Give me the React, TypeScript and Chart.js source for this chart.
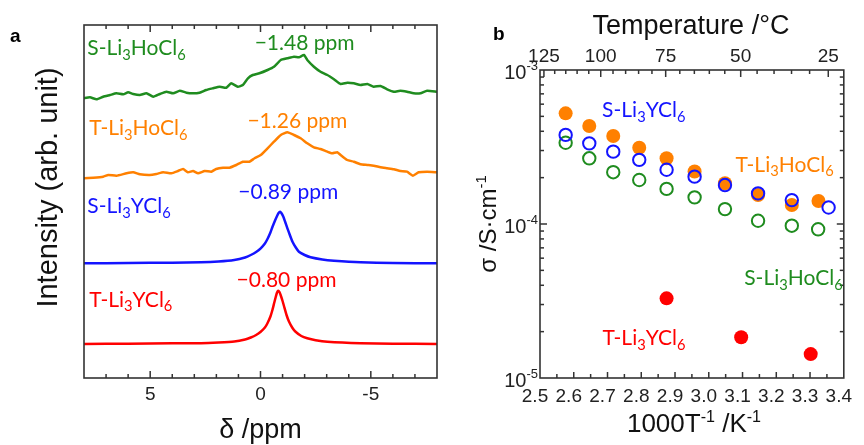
import React, { useEffect, useRef } from 'react';
import { Chart, registerables } from 'chart.js';
Chart.register(...registerables);

// ---------------- Panel a : 7Li NMR spectra (delta in ppm, intensity in arb. units) ----------------
const sHoPpm = [8.03, 7.73, 7.43, 7.13, 6.82, 6.53, 6.22, 6.0, 5.77, 5.47, 5.17, 4.86, 4.56, 4.27, 3.96, 3.66, 3.36, 3.06, 2.76, 2.46, 2.16, 1.85, 1.55, 1.33, 1.03, 0.8, 0.57, 0.35, 0.05, -0.32, -0.61, -0.92, -1.22, -1.52, -1.74, -1.97, -2.12, -2.42, -2.72, -3.03, -3.33, -3.63, -3.93, -4.23, -4.53, -4.84, -5.13, -5.44, -5.74, -6.04, -6.34, -6.64, -6.94, -7.25, -7.55, -8.0];
const sHoInt = [279.7, 280.7, 278.7, 281.3, 283, 284.7, 283.7, 285.7, 284, 283, 284.7, 281.3, 284, 286.3, 284.7, 287.3, 285.3, 284.7, 285.3, 288, 289.7, 291.3, 290.3, 294.7, 291.3, 293, 299.7, 303, 304.7, 308, 311.3, 318, 319.7, 321.3, 320.7, 323, 318, 311.3, 306.3, 303, 298.7, 294, 295.3, 294.7, 293, 294, 291.3, 292, 288.7, 286.3, 287.3, 286.3, 284.7, 284.7, 287.3, 286.3];

const tHoPpm = [8.03, 7.58, 7.13, 6.9, 6.53, 6.07, 5.77, 5.47, 5.02, 4.72, 4.41, 4.04, 3.74, 3.51, 3.29, 3.06, 2.83, 2.53, 2.23, 2.01, 1.7, 1.4, 1.1, 0.8, 0.5, 0.27, -0.01, -0.32, -0.61, -0.92, -1.22, -1.52, -1.82, -2.12, -2.42, -2.72, -3.03, -3.25, -3.48, -3.63, -3.93, -4.23, -4.53, -4.84, -5.13, -5.44, -5.74, -6.04, -6.34, -6.64, -6.91, -7.17, -7.55, -8.0];
const tHoInt = [199.7, 200.3, 201.3, 203, 202.3, 204.7, 205.7, 203.7, 203, 204, 205.7, 204.7, 207, 209, 205.7, 207, 204.7, 207, 206.3, 209, 210.3, 210.3, 213, 216.3, 216.3, 219.7, 223, 229.7, 236.3, 243, 245.7, 243, 239.7, 234.7, 230.7, 229, 226.3, 224.7, 225.7, 223, 218, 216.3, 213.7, 213, 212.3, 210.7, 209.7, 208.7, 207, 206.3, 202.3, 205.7, 206.3, 205.7];

const sYPpm = [8, 6, 4, 2.7, 1.9, 1.19, 0.7, 0.44, 0.2, -0.01, -0.2, -0.31, -0.45, -0.54, -0.65, -0.74, -0.82, -0.89, -0.96, -1.04, -1.12, -1.22, -1.33, -1.45, -1.6, -1.74, -2.0, -2.27, -2.8, -3.33, -4.53, -6, -8];
const sYInt = [114.7, 115, 115.3, 115.7, 116.5, 118, 120.5, 123, 126, 129.7, 134.5, 138.7, 145.5, 151, 157, 161.5, 165, 166.3, 164.5, 161, 156, 149.7, 143, 136.3, 130.5, 126.3, 123, 120.7, 118.5, 117.3, 115.7, 115, 114.7];

const tYPpm = [8, 6, 4, 2.7, 1.9, 1.19, 0.7, 0.44, 0.2, -0.01, -0.2, -0.31, -0.45, -0.54, -0.62, -0.69, -0.75, -0.8, -0.86, -0.92, -1.0, -1.07, -1.18, -1.29, -1.45, -1.59, -1.85, -2.12, -2.5, -3.03, -4.53, -6, -8];
const tYInt = [34, 34.3, 34.7, 34.8, 35.5, 36.5, 38.5, 40.5, 43, 46.3, 50.5, 54.5, 61.5, 68, 75, 81, 85.5, 87.3, 86, 82.5, 77, 71.5, 63, 56.5, 50, 46.3, 42, 39.7, 37.8, 36.3, 34.8, 34.3, 34];

const ppmTickLabels = [5, 0, -5];

// ---------------- Panel b : conductivity vs 1000/T ----------------
const sYInvT = [2.576, 2.646, 2.717, 2.794, 2.875, 2.958, 3.048, 3.146, 3.246, 3.355];
const sYSigma = [3.79e-4, 3.34e-4, 2.95e-4, 2.61e-4, 2.25e-4, 2.03e-4, 1.79e-4, 1.58e-4, 1.43e-4, 1.28e-4];
const tHoInvT = [2.576, 2.646, 2.717, 2.794, 2.875, 2.958, 3.048, 3.146, 3.246, 3.325];
const tHoSigma = [5.23e-4, 4.33e-4, 3.73e-4, 3.13e-4, 2.67e-4, 2.19e-4, 1.84e-4, 1.54e-4, 1.33e-4, 1.41e-4];
const sHoInvT = [2.576, 2.646, 2.717, 2.794, 2.875, 2.958, 3.048, 3.146, 3.246, 3.324];
const sHoSigma = [3.37e-4, 2.67e-4, 2.17e-4, 1.93e-4, 1.69e-4, 1.49e-4, 1.25e-4, 1.05e-4, 9.75e-5, 9.24e-5];
const tYInvT = [2.875, 3.096, 3.302];
const tYSigma = [3.29e-5, 1.84e-5, 1.43e-5];

const invTTickLabels = [2.5, 2.6, 2.7, 2.8, 2.9, 3.0, 3.1, 3.2, 3.3, 3.4];
const tempTickLabels = [125, 100, 75, 50, 25];
const sigmaDecades = [-5, -4, -3];

// ---------------- styles ----------------
const GREEN = '#1f8c1f';
const ORANGE = '#ff8000';
const BLUE = '#1414ff';
const RED = '#ff0000';
const FRAME = '#333333';
const AXIS_FONT = '"Liberation Sans", Arial, sans-serif';
const LABEL_FONT = 'Lato, "Open Sans", sans-serif';

type Seg = { t: string; s?: 'sub' | 'sup' };
const chem = (a: string, n1: string, b: string, n2: string): Seg[] => [
  { t: a }, { t: n1, s: 'sub' }, { t: b }, { t: n2, s: 'sub' },
];

function drawRich(
  ctx: CanvasRenderingContext2D, segs: Seg[], x: number, y: number, size: number,
  family: string, color: string, align: 'left' | 'center' | 'right',
  opts: { weight?: string; rotate?: boolean; small?: number; subShift?: number; supShift?: number } = {}
) {
  const weight = opts.weight || 'normal';
  const small = size * (opts.small || 0.7);
  const fontOf = (s: Seg) => `${weight} ${s.s ? small : size}px ${family}`;
  ctx.save();
  ctx.fillStyle = color;
  ctx.textBaseline = 'alphabetic';
  ctx.textAlign = 'left';
  let total = 0;
  for (const s of segs) { ctx.font = fontOf(s); total += ctx.measureText(s.t).width; }
  ctx.translate(x, y);
  if (opts.rotate) ctx.rotate(-Math.PI / 2);
  let cx = align === 'left' ? 0 : align === 'center' ? -total / 2 : -total;
  for (const s of segs) {
    ctx.font = fontOf(s);
    const dy = s.s === 'sub' ? size * (opts.subShift ?? 0.22) : s.s === 'sup' ? -size * (opts.supShift ?? 0.4) : 0;
    ctx.fillText(s.t, cx, dy);
    cx += ctx.measureText(s.t).width;
  }
  ctx.restore();
}

const annotationsA = [
  { segs: chem('S-Li', '3', 'HoCl', '6'), x: 7.85, y: 323, color: GREEN, align: 'left' },
  { segs: [{ t: '\u22121.48 ppm' }], x: -2.0, y: 328, color: GREEN, align: 'center' },
  { segs: chem('T-Li', '3', 'HoCl', '6'), x: 7.76, y: 243, color: ORANGE, align: 'left' },
  { segs: [{ t: '\u22121.26 ppm' }], x: -1.67, y: 250.3, color: ORANGE, align: 'center' },
  { segs: chem('S-Li', '3', 'YCl', '6'), x: 7.85, y: 165, color: BLUE, align: 'left' },
  { segs: [{ t: '\u22120.89 ppm' }], x: -1.26, y: 178.7, color: BLUE, align: 'center' },
  { segs: chem('T-Li', '3', 'YCl', '6'), x: 7.76, y: 71.3, color: RED, align: 'left' },
  { segs: [{ t: '\u22120.80 ppm' }], x: -1.18, y: 90.7, color: RED, align: 'center' },
];

const annotationsB = [
  { segs: chem('S-Li', '3', 'YCl', '6'), x: 2.684, y: 4.96e-4, color: BLUE },
  { segs: chem('T-Li', '3', 'HoCl', '6'), x: 3.079, y: 2.18e-4, color: ORANGE },
  { segs: chem('S-Li', '3', 'HoCl', '6'), x: 3.105, y: 4.02e-5, color: GREEN },
  { segs: chem('T-Li', '3', 'YCl', '6'), x: 2.685, y: 1.64e-5, color: RED },
];

const zip = (xs: number[], ys: number[]) => xs.map((x, i) => ({ x, y: ys[i] }));

function line(xs: number[], ys: number[], color: string) {
  return {
    data: zip(xs, ys), showLine: true, borderColor: color, borderWidth: 2.5,
    pointRadius: 0, tension: 0.15, fill: false,
  };
}

function vTick(ctx: CanvasRenderingContext2D, x: number, y0: number, len: number) {
  ctx.beginPath(); ctx.moveTo(x, y0); ctx.lineTo(x, y0 + len); ctx.stroke();
}
function hTick(ctx: CanvasRenderingContext2D, y: number, x0: number, len: number) {
  ctx.beginPath(); ctx.moveTo(x0, y); ctx.lineTo(x0 + len, y); ctx.stroke();
}

const panelAPlugin = {
  id: 'panelADecor',
  afterDraw(chart: any) {
    const { ctx, chartArea: ca, scales } = chart;
    const xs = scales.x, ys = scales.y;
    ctx.save();
    ctx.strokeStyle = FRAME;
    ctx.lineWidth = 1.5;
    for (let v = -7; v <= 7; v += 1) {
      const px = xs.getPixelForValue(v);
      const len = v % 5 === 0 ? 7 : 4;
      vTick(ctx, px, ca.bottom, -len);
      vTick(ctx, px, ca.top, len);
    }
    ctx.lineWidth = 1.6;
    ctx.strokeRect(ca.left, ca.top, ca.right - ca.left, ca.bottom - ca.top);
    ctx.restore();

    for (const a of annotationsA) {
      drawRich(ctx, a.segs as Seg[], xs.getPixelForValue(a.x), ys.getPixelForValue(a.y), 21, LABEL_FONT, a.color, a.align as any);
    }
    // panel letter
    drawRich(ctx, [{ t: 'a' }], 10, 42, 19, AXIS_FONT, '#000', 'left', { weight: 'bold' });
    // axis titles
    drawRich(ctx, [{ t: 'Intensity (arb. unit)' }], 57, (ca.top + ca.bottom) / 2 - 14, 29, AXIS_FONT, '#111', 'center', { rotate: true });
    drawRich(ctx, [{ t: '\u03b4 /ppm' }], (ca.left + ca.right) / 2, 438, 27, AXIS_FONT, '#111', 'center');
  },
};

const panelBPlugin = {
  id: 'panelBDecor',
  afterDraw(chart: any) {
    const { ctx, chartArea: ca, scales } = chart;
    const xs = scales.x, ys = scales.y;
    ctx.save();
    ctx.strokeStyle = FRAME;
    ctx.lineWidth = 1.5;
    // bottom ticks every 0.05
    for (let i = 1; i < 18; i++) {
      const v = 2.5 + i * 0.05;
      const px = xs.getPixelForValue(v);
      vTick(ctx, px, ca.bottom, i % 2 === 0 ? -6 : -4);
    }
    // top ticks: every 5 degC
    for (let T = 25; T <= 125; T += 5) {
      const px = xs.getPixelForValue(1000 / (T + 273.15));
      vTick(ctx, px, ca.top, T % 25 === 0 ? 7 : 4);
    }
    // log ticks on left and right
    for (const e of [-5, -4]) {
      for (let m = 1; m <= 9; m++) {
        const py = ys.getPixelForValue(m * Math.pow(10, e));
        const len = m === 1 ? 7 : 4;
        if (py >= ca.bottom - 0.5) continue;
        hTick(ctx, py, ca.left, len);
        hTick(ctx, py, ca.right, -len);
      }
    }
    ctx.lineWidth = 1.6;
    ctx.strokeRect(ca.left, ca.top, ca.right - ca.left, ca.bottom - ca.top);
    ctx.restore();

    // y tick labels 10^e
    for (const e of sigmaDecades) {
      const py = ys.getPixelForValue(Math.pow(10, e));
      drawRich(ctx, [{ t: '10' }, { t: String(e), s: 'sup' }], ca.left - 2, py + 9, 20, AXIS_FONT, '#222', 'right', { small: 0.65, supShift: 0.45 });
    }

    for (const a of annotationsB) {
      drawRich(ctx, a.segs, xs.getPixelForValue(a.x), ys.getPixelForValue(a.y), 21, LABEL_FONT, a.color, 'left');
    }
    drawRich(ctx, [{ t: 'b' }], 33, 40, 19, AXIS_FONT, '#000', 'left', { weight: 'bold' });
    drawRich(ctx, [{ t: 'Temperature /\u00b0C' }], 231, 34, 27, AXIS_FONT, '#111', 'center');
    drawRich(ctx, [{ t: '1000T' }, { t: '-1', s: 'sup' }, { t: ' /K' }, { t: '-1', s: 'sup' }], 234, 432, 26, AXIS_FONT, '#111', 'center', { small: 0.62 });
    drawRich(ctx, [{ t: '\u03c3 /S\u00b7cm' }, { t: '-1', s: 'sup' }], 36, (ca.top + ca.bottom) / 2, 24, AXIS_FONT, '#111', 'center', { rotate: true, small: 0.62 });
  },
};

export default function App() {
  const refA = useRef<HTMLCanvasElement>(null);
  const refB = useRef<HTMLCanvasElement>(null);

  useEffect(() => {
    const hidden = { display: false, drawTicks: false };
    const chartA = new Chart(refA.current as HTMLCanvasElement, {
      type: 'scatter',
      data: {
        datasets: [
          line(sHoPpm, sHoInt, GREEN),
          line(tHoPpm, tHoInt, ORANGE),
          line(sYPpm, sYInt, BLUE),
          line(tYPpm, tYInt, RED),
        ] as any,
      },
      options: {
        animation: false, responsive: false, maintainAspectRatio: false, devicePixelRatio: 1,
        layout: { padding: { top: 25, right: 23, left: 0, bottom: 0 } },
        plugins: { legend: { display: false }, tooltip: { enabled: false } },
        scales: {
          x: {
            type: 'linear', min: -8, max: 8, reverse: true, position: 'bottom',
            grid: hidden, border: { display: false },
            ticks: { font: { family: AXIS_FONT, size: 19 }, color: '#222', padding: 5.5, autoSkip: false, maxRotation: 0, callback: (v: any) => String(v) },
            afterBuildTicks: (s: any) => { s.ticks = ppmTickLabels.map((v) => ({ value: v })); },
            afterFit: (s: any) => { s.height = 67; },
          },
          y: {
            type: 'linear', min: 0, max: 353,
            grid: hidden, border: { display: false },
            ticks: { display: false },
            afterFit: (s: any) => { s.width = 84; },
          },
        },
      } as any,
      plugins: [panelAPlugin as any],
    });

    const point = (xs: number[], ys: number[], color: string, filled: boolean) => ({
      data: zip(xs, ys), showLine: false, pointStyle: 'circle',
      pointRadius: filled ? 7 : 6.2,
      pointBackgroundColor: filled ? color : 'rgba(0,0,0,0)',
      pointBorderColor: color, pointBorderWidth: filled ? 0 : 2,
    });

    const chartB = new Chart(refB.current as HTMLCanvasElement, {
      type: 'scatter',
      data: {
        datasets: [
          point(sYInvT, sYSigma, BLUE, false),
          point(tHoInvT, tHoSigma, ORANGE, true),
          point(sHoInvT, sHoSigma, GREEN, false),
          point(tYInvT, tYSigma, RED, true),
        ] as any,
      },
      options: {
        animation: false, responsive: false, maintainAspectRatio: false, devicePixelRatio: 1,
        layout: { padding: { top: 0, right: 16, left: 0, bottom: 0 } },
        plugins: { legend: { display: false }, tooltip: { enabled: false } },
        scales: {
          x: {
            type: 'linear', min: 2.5, max: 3.4, position: 'bottom',
            grid: hidden, border: { display: false },
            ticks: { font: { family: AXIS_FONT, size: 19 }, color: '#222', padding: 7, labelOffset: -5, autoSkip: false, maxRotation: 0, callback: (v: any) => Number(v).toFixed(1) },
            afterBuildTicks: (s: any) => { s.ticks = invTTickLabels.map((v) => ({ value: v })); },
            afterFit: (s: any) => { s.height = 67; },
          },
          x2: {
            type: 'linear', min: 2.5, max: 3.4, position: 'top',
            grid: hidden, border: { display: false },
            ticks: { font: { family: AXIS_FONT, size: 19 }, color: '#222', padding: 2, autoSkip: false, maxRotation: 0, callback: (_v: any, i: number) => String(tempTickLabels[i]) },
            afterBuildTicks: (s: any) => { s.ticks = tempTickLabels.map((T) => ({ value: 1000 / (T + 273.15) })); },
            afterFit: (s: any) => { s.height = 70; },
          },
          y: {
            type: 'logarithmic', min: 1e-5, max: 1e-3,
            grid: hidden, border: { display: false },
            ticks: { display: false },
            afterFit: (s: any) => { s.width = 80; },
          },
        },
      } as any,
      plugins: [panelBPlugin as any],
    });

    let alive = true;
    const fonts: any = (document as any).fonts;
    if (fonts && fonts.load) {
      Promise.all([fonts.load('21px Lato'), fonts.load('18px "Liberation Sans"')])
        .then(() => { if (alive) { chartA.update(); chartB.update(); } })
        .catch(() => {});
    }
    return () => { alive = false; chartA.destroy(); chartB.destroy(); };
  }, []);

  return (
    <div style={{ position: 'fixed', left: 0, top: 0, width: 864, height: 445, background: '#fff' }}>
      <canvas ref={refA} width={460} height={445} style={{ position: 'absolute', left: 0, top: 0, width: 460, height: 445 }} />
      <canvas ref={refB} width={404} height={445} style={{ position: 'absolute', left: 460, top: 0, width: 404, height: 445 }} />
    </div>
  );
}
